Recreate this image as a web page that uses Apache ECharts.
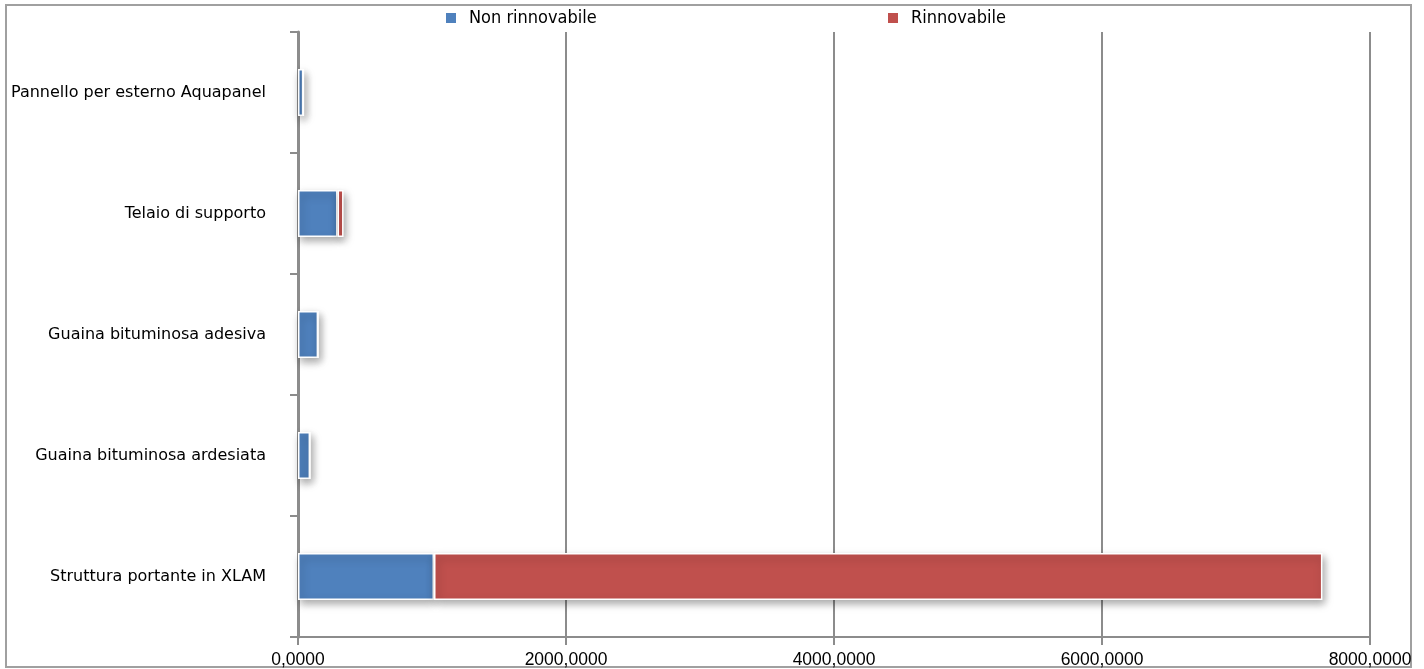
<!DOCTYPE html>
<html><head><meta charset="utf-8">
<script src="https://cdn.jsdelivr.net/npm/echarts@6/dist/echarts.min.js"></script>
<style>html,body{margin:0;padding:0;background:#fff}#c{width:1424px;height:669px}</style>
</head><body><div id="c"></div>
<script>
const categories = ["Struttura portante in XLAM","Guaina bituminosa ardesiata","Guaina bituminosa adesiva","Telaio di supporto","Pannello per esterno Aquapanel"];
const nonRinnovabile = [1015, 90, 150, 295, 40];
const rinnovabile = [6630, 0, 0, 45, 0];
const xTicks = [0, 2000, 4000, 6000, 8000];

const chart = echarts.init(document.getElementById('c'));
const catFont = '"DejaVu Sans", sans-serif';
const legFont = '"DejaVu Sans Condensed", "DejaVu Sans", sans-serif';
const numFont = '"Liberation Sans", Arial, sans-serif';
const grey = '#8c8c8c';
const barStyle = {borderColor:'#fff', borderWidth:1.5, shadowBlur:8, shadowColor:'rgba(0,0,0,0.35)', shadowOffsetX:2, shadowOffsetY:4};
const legText = {fontSize:18, color:'#000', fontFamily:legFont, padding:[0,0,0,7]};
chart.setOption({
  animation:false,
  graphic:[{type:'rect', shape:{x:6,y:5,width:1405,height:662}, style:{fill:'none', stroke:'#a0a0a0', lineWidth:2}, z:-1}],
  legend:[
    {data:['Non rinnovabile'], left:444, top:9, padding:0, itemWidth:12, itemHeight:12, textStyle:legText, icon:'rect'},
    {data:['Rinnovabile'], left:886, top:9, padding:0, itemWidth:12, itemHeight:12, textStyle:legText, icon:'rect'}
  ],
  grid:{left:298, right:54, top:32, bottom:31, containLabel:false},
  xAxis:{type:'value', min:xTicks[0], max:xTicks[xTicks.length-1], interval:xTicks[1]-xTicks[0],
    axisLine:{show:true, lineStyle:{color:grey, width:2}},
    axisTick:{show:true, length:8, lineStyle:{color:grey, width:2}},
    splitLine:{show:true, lineStyle:{color:grey, width:2}},
    axisLabel:{fontSize:17.5, color:'#000', margin:14, fontFamily:numFont, formatter:v=>v.toFixed(4).replace('.',',')}},
  yAxis:{type:'category', data:categories,
    axisLine:{show:true, lineStyle:{color:grey, width:3}},
    axisTick:{show:true, length:8, lineStyle:{color:grey, width:2}},
    axisLabel:{fontSize:16, color:'#000', margin:32, fontFamily:catFont}},
  series:[
    {name:'Non rinnovabile', type:'bar', stack:'t', data:nonRinnovabile, barWidth:'39%', itemStyle:Object.assign({color:'#4f81bd'}, barStyle)},
    {name:'Rinnovabile', type:'bar', stack:'t', data:rinnovabile, barWidth:'39%', itemStyle:Object.assign({color:'#c0504d'}, barStyle)}
  ]
});
</script></body></html>
